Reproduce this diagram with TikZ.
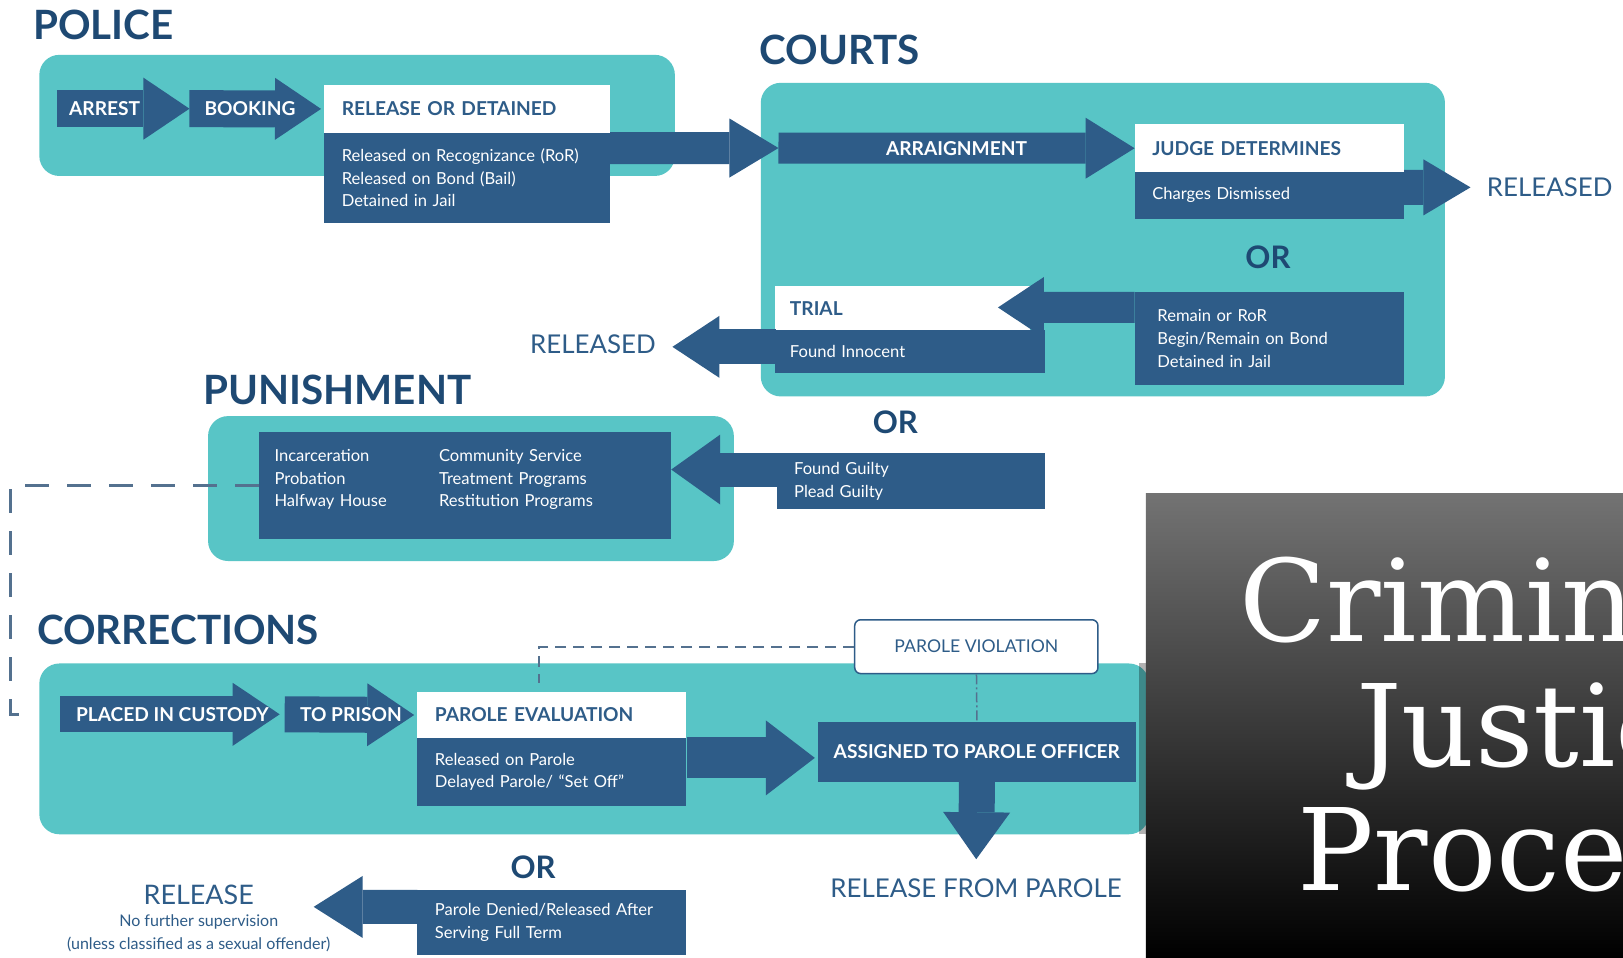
\documentclass[tikz,border=0pt]{standalone}
\usepackage{fontspec}
\setmainfont{Lato}
\newfontfamily\slabfont{DejaVu Serif}
\usetikzlibrary{arrows.meta}

\definecolor{navy}{RGB}{46,92,136}
\definecolor{headblue}{RGB}{30,73,115}
\definecolor{tealbg}{RGB}{88,197,198}
\definecolor{dashblue}{RGB}{84,113,143}

\begin{document}
\begin{tikzpicture}[x=1pt, y=-1pt, scale=1.0351, every node/.append style={transform shape},
    stage/.style={fill=tealbg, rounded corners=20pt},
    title/.style={text=headblue, font=\fontsize{39}{40}\selectfont\bfseries},
    orlbl/.style={text=headblue, font=\fontsize{30}{32}\selectfont\bfseries},
    hbox/.style={fill=white, text=navy, anchor=north west, inner xsep=17pt, inner ysep=0pt, align=left, font=\fontsize{18.5}{20}\selectfont\bfseries},
    dbox/.style={fill=navy, text=white, anchor=north west, inner xsep=17pt, inner ysep=0pt, align=left, font=\fontsize{16}{22}\selectfont},
    albl/.style={text=white, font=\fontsize{18.5}{20}\selectfont\bfseries},
    outlbl/.style={text=navy, font=\fontsize{25}{27}\selectfont},
    flow/.style n args={3}{draw=navy, line width=#1pt, -{Triangle[length=#3pt, width=#2pt, line width=0pt]}},
    link/.style={draw=dashblue, line width=2.5pt, dash pattern=on 24pt off 18pt},
    thinlink/.style={draw=dashblue, line width=2pt, dash pattern=on 11pt off 7pt},
    dotlink/.style={draw=dashblue, line width=1.5pt, dash pattern=on 10pt off 3pt on 2pt off 3pt},
    slab/.style={anchor=base west, text=white, inner sep=0pt, font=\slabfont\fontsize{110}{110}\selectfont},
]
    %% page size of the reference picture, with a white background
    \fill[white] (0,0) rectangle (1568,925.5);
    \useasboundingbox (0,0) rectangle (1568,925.5);

    %% POLICE
    \fill[stage] (38,53) rectangle (652,170);
    \node[title] (police) at (100,24) {POLICE};
    \node[hbox, text width=242pt, minimum height=46pt] (relh) at (313,82) {RELEASE OR DETAINED};
    \node[dbox, text width=242pt, minimum height=87pt] (reld) at (313,128) {Released on Recognizance (RoR)\\Released on Bond (Bail)\\Detained in Jail};
    \coordinate (ar0) at (55,105);
    \coordinate (bk0) at (183,105);
    \draw[flow={37}{62}{46}] (ar0) -- (bk0) node[pos=.36, albl] (arrest) {ARREST};
    \draw[flow={37}{62}{46}, shorten >=3pt] (bk0) -- (relh.west) node[pos=.45, albl] (booking) {BOOKING};

    %% COURTS
    \fill[stage] (735,80) rectangle (1396,383);
    \node[title] (courts) at (811,48) {COURTS};
    \node[hbox, text width=226pt, minimum height=46pt] (judgeh) at (1096,120) {JUDGE DETERMINES};
    \node[dbox, text width=226pt, minimum height=45pt] (judged) at (1096,166) {Charges Dismissed};
    \coordinate (arr0) at (752,143);
    \draw[flow={32}{59}{49}] ([yshift=-15pt]reld.north east) -- (arr0);
    \draw[flow={31}{61}{49}] (arr0) -- (judgeh.west) node[midway, albl] (arraign) {ARRAIGNMENT};
    \node[outlbl, anchor=west] (rel1) at (1433,181) {RELEASED};
    \draw[flow={35}{56}{47}, shorten >=13pt] ([yshift=-15pt]judged.north east) -- (rel1.west);
    \node[orlbl] (or1) at (1225,249) {OR};
    \node[dbox, inner xsep=22pt, text width=216pt, minimum height=90pt] (remain) at (1096,282) {Remain or RoR\\Begin/Remain on Bond\\Detained in Jail};
    \node[hbox, inner xsep=14pt, text width=218pt, minimum height=43pt] (trialh) at (749,276) {TRIAL};
    \node[dbox, inner xsep=14pt, text width=232pt, minimum height=41pt] (triald) at (749,319) {Found Innocent};
    \coordinate (trialtip) at (964,297);
    \draw[flow={31}{61}{46}] ([yshift=-15pt]remain.north west) -- (trialtip);
    \node[outlbl, anchor=east] (rel2) at (637,333) {RELEASED};
    \coordinate (inno0) at ([yshift=-16pt]triald.north west);
    \draw[flow={35}{62}{47}, shorten >=13pt] (inno0) -- (inno0 -| rel2.east);

    %% PUNISHMENT
    \node[title] (punish) at (326,377) {PUNISHMENT};
    \node[orlbl] (or2) at (865,408) {OR};
    \fill[stage] (201,402) rectangle (709,542);
    \node[dbox, inner xsep=15pt, text width=368pt, minimum height=104pt] (pun) at (250,417) {%
        \begin{tabular}{@{}p{159pt}@{}l@{}}
        Incarceration & Community Service\\
        Probation & Treatment Programs\\
        Halfway House & Restitution Programs\\[12pt]
        \end{tabular}};
    \node[dbox, text width=225pt, minimum height=55pt] (guilty) at (750,437) {Found Guilty\\Plead Guilty};
    \coordinate (guil0) at ([yshift=-16.5pt]guilty.north west);
    \draw[flow={34}{70}{49}] (guil0) -- (guil0 -| pun.east);
    %% back to custody
    \coordinate (back) at (22,690);
    \draw[link] (pun.west) -| (back -| 10,0) -- (back);

    %% CORRECTIONS
    \node[title] (correct) at (172,609) {CORRECTIONS};
    \fill[stage] (38,641) rectangle (1110,806);
    \node[hbox, text width=226pt, minimum height=45pt] (paroleh) at (403,668) {PAROLE EVALUATION};
    \node[dbox, text width=226pt, minimum height=65pt] (paroled) at (403,713) {Released on Parole\\Delayed Parole/ “Set Off”};
    \node[dbox, align=center, inner xsep=0pt, minimum width=307pt, minimum height=58pt, font=\fontsize{18.5}{20}\selectfont\bfseries] (assigned) at (790,697) {ASSIGNED TO PAROLE OFFICER};
    \coordinate (cus0) at (58,690);
    \coordinate (pri0) at (275,690);
    \draw[flow={36}{63}{47}, shorten >=5pt] (cus0) -- (pri0) node[midway, albl] (custody) {PLACED IN CUSTODY};
    \draw[flow={36}{63}{47}, shorten >=3pt] (pri0) -- (paroleh.west) node[midway, albl] (prison) {TO PRISON};
    \coordinate (par0) at ([yshift=-19pt]paroled.north east);
    \draw[flow={41}{75}{49}, shorten >=3pt] (par0) -- (par0 -| assigned.west);
    \node[outlbl] (rfp) at (943,858) {RELEASE FROM PAROLE};
    \coordinate (rfptip) at (943,830);
    \draw[flow={36}{67}{47}] (assigned.south) -- (rfptip);
    \node[draw=navy, line width=1.5pt, fill=white, rounded corners=6pt, anchor=north west, minimum width=235pt, minimum height=52pt, text=navy, font=\fontsize{17}{18}\selectfont] (pviol) at (825,598) {PAROLE VIOLATION};
    \coordinate (pev0) at (521,660);
    \draw[thinlink] (pviol.west) -| (pev0);
    \draw[dotlink] (pviol.south) -- (assigned.north);
    \node[orlbl] (or3) at (515,838) {OR};
    \node[dbox, text width=226pt, minimum height=62pt] (denied) at (403,860) {Parole Denied/Released After\\Serving Full Term};
    \node[text=navy, font=\fontsize{26}{28}\selectfont] (rel3) at (192,865) {RELEASE};
    \node[text=navy, align=center, font=\fontsize{15.5}{22}\selectfont] (relnote) at (192,902) {No further supervision\\(unless classified as a sexual offender)};
    \coordinate (den0) at ([yshift=-16pt]denied.north west);
    \coordinate (reltip) at (303,876);
    \draw[flow={34}{62}{49}] (den0) -- (reltip);

    %% title panel over the right corner, with a faint shadow on its left
    \fill[black, opacity=.3] (1100,641) rectangle (1107,806);
    \shade[shading angle=45, top color=black!55, bottom color=black] (1107,477) rectangle (1568,925);
    \begin{scope}
        \clip (1107,477) rectangle (1568,925);
        \node[slab] (tcrim) at (1197,620) {Criminal};
        \node[slab] (tjust) at (1310,741) {Justice};
        \node[slab] (tproc) at (1253,860) {Process};
    \end{scope}
\end{tikzpicture}
\end{document}
